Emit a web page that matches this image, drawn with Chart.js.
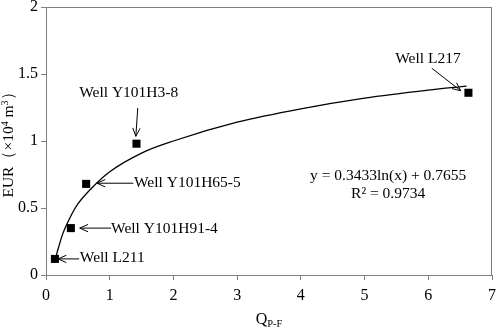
<!DOCTYPE html>
<html>
<head>
<meta charset="utf-8">
<script src="https://cdn.jsdelivr.net/npm/chart.js@4.4.0/dist/chart.umd.min.js"></script>
<style>
  html, body { margin: 0; padding: 0; background: #fff; }
  #wrap { width: 498px; height: 331px; }
</style>
</head>
<body>
<div id="wrap"><canvas id="eurChart" width="498" height="331"></canvas></div>
<script>
// wells: Q(P-F) vs EUR
const wells   = ['Well L211', 'Well Y101H91-4', 'Well Y101H65-5', 'Well Y101H3-8', 'Well L217'];
const qpf     = [0.14, 0.39, 0.63, 1.42, 6.63];
const eur     = [0.12, 0.35, 0.68, 0.98, 1.36];

// fitted curve
const fitX    = [0.15, 0.17, 0.2, 0.25, 0.3, 0.4, 0.5, 0.7, 1, 1.5, 2, 3, 4, 5, 6, 6.6];
const fitY    = [0.11, 0.16, 0.21, 0.29, 0.35, 0.45, 0.53, 0.64, 0.77, 0.91, 1.00, 1.14, 1.24, 1.32, 1.38, 1.41];

const xTicks  = [0, 1, 2, 3, 4, 5, 6, 7];
const yTicks  = [0, 0.5, 1, 1.5, 2];
const eqText  = 'y = 0.3433ln(x) + 0.7655';
const r2Text  = 'R² = 0.9734';

const FONT = '"Liberation Serif", "Times New Roman", serif';
const GRAY = '#808080';

// label anchors (data units): text left/middle, arrow from -> to
const notes = [
  { text: wells[0], tx: 0.53, ty: 0.125, from: [0.52, 0.12], to: [0.19, 0.12] },
  { text: wells[1], tx: 1.02, ty: 0.345, from: [1.02, 0.35], to: [0.53, 0.35] },
  { text: wells[2], tx: 1.38, ty: 0.687, from: [1.37, 0.685], to: [0.80, 0.685] },
  { text: wells[3], tx: 0.52, ty: 1.36,  from: [1.44, 1.246], to: [1.41, 1.035] },
  { text: wells[4], tx: 5.48, ty: 1.612, from: [6.055, 1.543], to: [6.51, 1.375] }
];

function arrow(ctx, x1, y1, x2, y2) {
  const a = Math.atan2(y2 - y1, x2 - x1);
  const len = 9, spread = 0.42;
  ctx.beginPath();
  ctx.moveTo(x1, y1);
  ctx.lineTo(x2, y2);
  ctx.moveTo(x2 - len * Math.cos(a - spread), y2 - len * Math.sin(a - spread));
  ctx.lineTo(x2, y2);
  ctx.lineTo(x2 - len * Math.cos(a + spread), y2 - len * Math.sin(a + spread));
  ctx.stroke();
}

const extras = {
  id: 'extras',
  afterDatasetsDraw(chart) {
    const { ctx, chartArea: a, scales: { x, y } } = chart;
    ctx.save();
    // frame on top/right
    ctx.strokeStyle = GRAY;
    ctx.lineWidth = 1;
    ctx.strokeRect(a.left + 0.5, a.top + 0.5, a.right - a.left - 1, a.bottom - a.top);

    ctx.fillStyle = '#000';
    ctx.strokeStyle = '#000';
    ctx.lineWidth = 1;
    ctx.font = '15.5px ' + FONT;
    ctx.textBaseline = 'middle';
    ctx.textAlign = 'left';
    notes.forEach(n => {
      ctx.fillText(n.text, x.getPixelForValue(n.tx), y.getPixelForValue(n.ty));
      arrow(ctx, x.getPixelForValue(n.from[0]), y.getPixelForValue(n.from[1]),
                 x.getPixelForValue(n.to[0]), y.getPixelForValue(n.to[1]));
    });

    ctx.textAlign = 'center';
    ctx.fillText(eqText, x.getPixelForValue(5.37), y.getPixelForValue(0.741));
    ctx.fillText(r2Text, x.getPixelForValue(5.37), y.getPixelForValue(0.602));

    // x title with subscript
    const cx = (a.left + a.right) / 2;
    ctx.textAlign = 'left';
    ctx.textBaseline = 'alphabetic';
    ctx.font = '16px ' + FONT;
    const qW = ctx.measureText('Q').width;
    ctx.font = '10.5px ' + FONT;
    const sW = ctx.measureText('P-F').width;
    const sx = cx - (qW + sW) / 2;
    ctx.font = '16px ' + FONT;
    ctx.fillText('Q', sx, 324);
    ctx.font = '10.5px ' + FONT;
    ctx.fillText('P-F', sx + qW, 327);

    // y title
    ctx.translate(9, (a.top + a.bottom) / 2);
    ctx.rotate(-Math.PI / 2);
    ctx.textBaseline = 'middle';
    const parts = [
      ['EUR（×10', 15.5, 0],
      ['4', 10, -4],
      [' m', 15.5, 0],
      ['3', 10, -4],
      ['）', 15.5, 0]
    ];
    let total = 0;
    parts.forEach(p => { ctx.font = p[1] + 'px ' + FONT; total += ctx.measureText(p[0]).width; });
    let px = -total / 2;
    parts.forEach(p => {
      ctx.font = p[1] + 'px ' + FONT;
      ctx.fillText(p[0], px, p[2]);
      px += ctx.measureText(p[0]).width;
    });
    ctx.restore();
  }
};

const ctx = document.getElementById('eurChart').getContext('2d');
new Chart(ctx, {
  type: 'scatter',
  data: {
    datasets: [
      {
        label: 'fit',
        data: fitX.map((v, i) => ({ x: v, y: fitY[i] })),
        showLine: true,
        borderColor: '#000',
        borderWidth: 1.3,
        pointRadius: 0,
        cubicInterpolationMode: 'monotone',
        fill: false
      },
      {
        label: 'EUR',
        data: qpf.map((v, i) => ({ x: v, y: eur[i] })),
        pointStyle: 'rect',
        pointRadius: 5.7,
        backgroundColor: '#000',
        borderColor: '#000',
        borderWidth: 0
      }
    ]
  },
  options: {
    responsive: false,
    animation: false,
    layout: { padding: { top: 7, right: 6, left: 0, bottom: 0 } },
    plugins: { legend: { display: false }, tooltip: { enabled: false } },
    scales: {
      x: {
        type: 'linear',
        min: xTicks[0],
        max: xTicks[xTicks.length - 1],
        afterBuildTicks: s => { s.ticks = xTicks.map(v => ({ value: v })); },
        afterFit: s => { s.height = 56; s.paddingLeft = 0; s.paddingRight = 0; },
        grid: { drawOnChartArea: false, color: GRAY, tickLength: 5 },
        border: { color: GRAY },
        ticks: { color: '#000', font: { family: FONT, size: 16 }, padding: 6, maxRotation: 0,
                 callback: v => String(v) }
      },
      y: {
        min: yTicks[0],
        max: yTicks[yTicks.length - 1],
        afterBuildTicks: s => { s.ticks = yTicks.map(v => ({ value: v })); },
        afterFit: s => { s.width = 46; s.paddingTop = 0; s.paddingBottom = 0; },
        grid: { drawOnChartArea: false, color: GRAY, tickLength: 5 },
        border: { color: GRAY },
        ticks: { color: '#000', font: { family: FONT, size: 16 }, padding: 3,
                 callback: v => String(v) }
      }
    }
  },
  plugins: [extras]
});
</script>
</body>
</html>
